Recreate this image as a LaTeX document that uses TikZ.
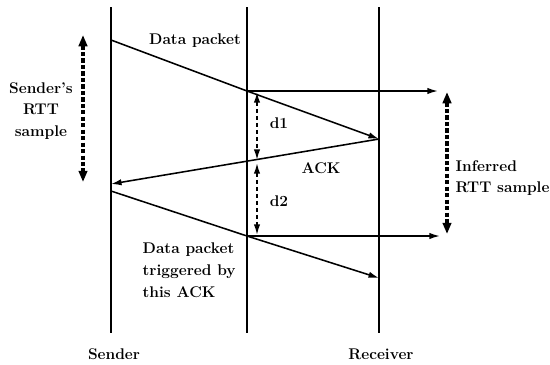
\documentclass[tikz,border=0pt]{standalone}
\usetikzlibrary{arrows.meta,positioning}

\begin{document}
\begin{tikzpicture}
          [x=0.025cm, y=-0.025cm,
          font=\fontsize{11}{15.5}\selectfont\bfseries,
          lifeline/.style={draw, line width=1.3pt},
          line/.style={draw, line width=1.1pt, -{Latex[length=7.5pt,width=4.5pt]}},
          gap/.style={draw, line width=1.1pt, dash pattern=on 3pt off 2pt,
              {Latex[length=7.5pt,width=4.5pt]}-{Latex[length=7.5pt,width=4.5pt]}},
          rtt/.style={draw, line width=2.2pt, dash pattern=on 3pt off 1.6pt,
              {Triangle[length=8pt,width=6pt]}-{Triangle[length=8pt,width=6pt]}},
          lbl/.style={align=left, inner sep=1pt}]

          \useasboundingbox (0,0) rectangle (550,364);

          % lifelines
          \coordinate (stop) at (111,7);   \coordinate (sbot) at (111,333);
          \coordinate (mtop) at (247,7);   \coordinate (mbot) at (247,333);
          \coordinate (rtop) at (379,7);   \coordinate (rbot) at (379,333);
          \path[lifeline] (stop) -- (sbot);
          \path[lifeline] (mtop) -- (mbot);
          \path[lifeline] (rtop) -- (rbot);

          % message events
          \coordinate (send1) at (111,40);
          \coordinate (tap1)  at (247,91);
          \coordinate (recv1) at (379,139);
          \coordinate (tapack) at (247,161);
          \coordinate (ackin) at (111,184);
          \coordinate (send2) at (111,191);
          \coordinate (tap2)  at (247,236);
          \coordinate (recv2) at (379,278);
          \coordinate (out1)  at (438,91);
          \coordinate (out2)  at (440,236);

          \path[draw, line width=1.1pt] (send1) -- (tap1);
          \path[draw, line width=1.1pt] (send2) -- (tap2);
          \begin{scope}[every path/.style=line]
              \path (tap1) -- (recv1);
              \path (tap1) -- (out1);
              \path (recv1) -- (ackin);
              \path (tap2) -- (recv2);
              \path (tap2) -- (out2);
          \end{scope}

          % delays and samples
          \path[gap] (257,92) -- (257,160);
          \path[gap] (257,163) -- (257,235);
          \path[rtt] (83,35) -- (83,182);
          \path[rtt] (447,92) -- (447,234);

          % labels
          \node [lbl] (datalbl) at (195,41) {Data packet};
          \node [lbl] (d1lbl) at (279,123) {d1};
          \node [lbl] (d2lbl) at (279,201) {d2};
          \node [lbl] (acklbl) at (321,168) {ACK};
          \node [align=center, inner sep=1pt] (srtt) at (41,111) {Sender's\\RTT\\sample};
          \node [lbl, anchor=west] (irtt) at (454,178) {Inferred\\RTT sample};
          \node [lbl, anchor=west] (trig) at (141,270) {Data packet\\triggered by\\this ACK};
          \node [lbl] (sender) at (114,354) {Sender};
          \node [lbl] (receiver) at (381,354) {Receiver};
  \end{tikzpicture}
\end{document}
